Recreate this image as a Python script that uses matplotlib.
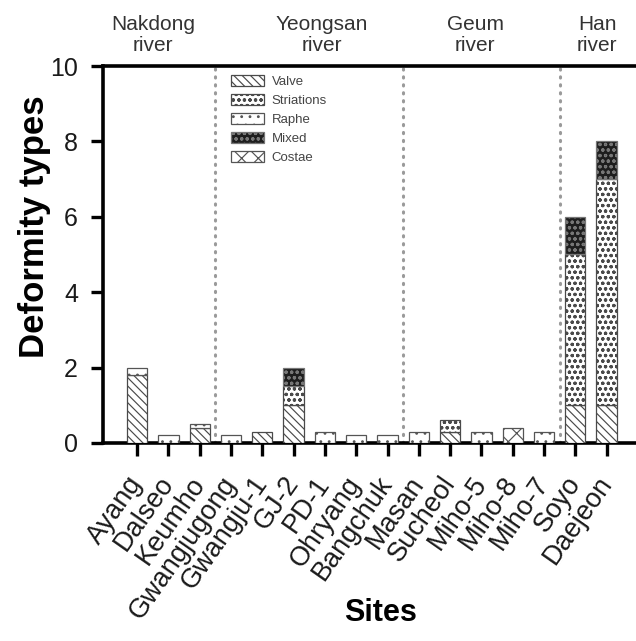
import numpy as np
import matplotlib
matplotlib.use('Agg')
import matplotlib.pyplot as plt
import matplotlib.transforms as mtransforms

plt.rcParams['font.family'] = ['Liberation Sans', 'DejaVu Sans']
plt.rcParams['hatch.linewidth'] = 0.85

# deformity counts per site, one list per deformity type
sites = ['Ayang', 'Dalseo', 'Keumho', 'Gwangjugong', 'Gwangju-1', 'GJ-2', 'PD-1',
         'Ohryang', 'Bangchuk', 'Masan', 'Sucheol', 'Miho-5', 'Miho-8', 'Miho-7',
         'Soyo', 'Daejeon']
valve      = [1.8, 0.0, 0.4, 0.0, 0.3, 1.0, 0.0, 0.0, 0.0, 0.0, 0.3, 0.0, 0.0, 0.0, 1.0, 1.0]
striations = [0.0, 0.0, 0.0, 0.0, 0.0, 0.5, 0.0, 0.0, 0.0, 0.0, 0.3, 0.0, 0.0, 0.0, 4.0, 6.0]
raphe      = [0.2, 0.2, 0.1, 0.2, 0.0, 0.0, 0.3, 0.2, 0.2, 0.3, 0.0, 0.3, 0.0, 0.3, 0.0, 0.0]
mixed      = [0.0, 0.0, 0.0, 0.0, 0.0, 0.5, 0.0, 0.0, 0.0, 0.0, 0.0, 0.0, 0.0, 0.0, 1.0, 1.0]
costae     = [0.0, 0.0, 0.0, 0.0, 0.0, 0.0, 0.0, 0.0, 0.0, 0.0, 0.0, 0.0, 0.4, 0.0, 0.0, 0.0]

rivers = ['Nakdong\nriver', 'Yeongsan\nriver', 'Geum\nriver', 'Han\nriver']
river_label_x = [0.5, 5.9, 10.8, 14.7]
river_breaks = [2.5, 8.5, 13.5]

types = [
    ('Valve', valve, 'white', '\\\\\\\\', '#4a4a4a'),
    ('Striations', striations, 'white', 'ooo...', '#4a4a4a'),
    ('Raphe', raphe, 'white', '..', '#555555'),
    ('Mixed', mixed, '#1e1e1e', 'ooo', '#777777'),
    ('Costae', costae, 'white', 'xx', '#555555'),
]

fig = plt.figure(figsize=(6.36, 6.41), dpi=100)
ax = fig.add_axes([0.162, 0.309, 0.838, 0.588])

x = np.arange(len(sites))
bottom = np.zeros(len(sites))
for name, vals, fc, hatch, ec in types:
    vals = np.array(vals)
    keep = vals > 0
    ax.bar(x[keep], vals[keep], width=0.65, bottom=bottom[keep], color=fc,
           edgecolor=ec, linewidth=0.9, hatch=hatch, label=name, zorder=3)
    bottom += vals

for xb in river_breaks:
    ax.plot([xb, xb], [0, 10], color='#9a9a9a', linestyle=(0, (0.4, 2.2)),
            linewidth=2.2, dash_capstyle='round', zorder=1)

trans = mtransforms.blended_transform_factory(ax.transData, ax.transAxes)
for lbl, xl in zip(rivers, river_label_x):
    ax.text(xl, 1.03, lbl, transform=trans, ha='center', va='bottom',
            fontsize=15, color='#333333', linespacing=1.1)

ax.set_xlim(-1.09, 15.94)
ax.set_ylim(0, 10)
ax.set_yticks([0, 2, 4, 6, 8, 10])
ax.set_xticks(x)
ax.set_xticklabels(sites, rotation=55, ha='right', va='center',
                   rotation_mode='anchor', fontsize=19.5, color='#1a1a1a')
# nudge the slanted site names a little to the right
shift = mtransforms.ScaledTranslation(7 / 72, 0, fig.dpi_scale_trans)
for lab in ax.get_xticklabels():
    lab.set_transform(lab.get_transform() + shift)
ax.tick_params(axis='y', labelsize=18, labelcolor='#1a1a1a', pad=9)
ax.tick_params(axis='x', pad=17)
ax.tick_params(width=2.4, length=9, direction='out')

for s in ['left', 'bottom', 'top']:
    ax.spines[s].set_linewidth(2.6)
ax.spines['right'].set_visible(False)

ax.set_ylabel('Deformity types', fontsize=25, fontweight='bold', va='center')
ax.yaxis.set_label_coords(-0.128, 0.575)
ax.set_xlabel('Sites', fontsize=22, fontweight='bold', va='center')
ax.xaxis.set_label_coords(0.52, -0.45)

leg = ax.legend(loc='upper left', bbox_to_anchor=(0.222, 1.0), frameon=False,
                fontsize=9.5, handlelength=2.5, handleheight=0.9,
                labelspacing=0.45, handletextpad=0.6, borderaxespad=0.3)
for t in leg.get_texts():
    t.set_color('#444444')

fig.savefig('out.png', dpi=100)
